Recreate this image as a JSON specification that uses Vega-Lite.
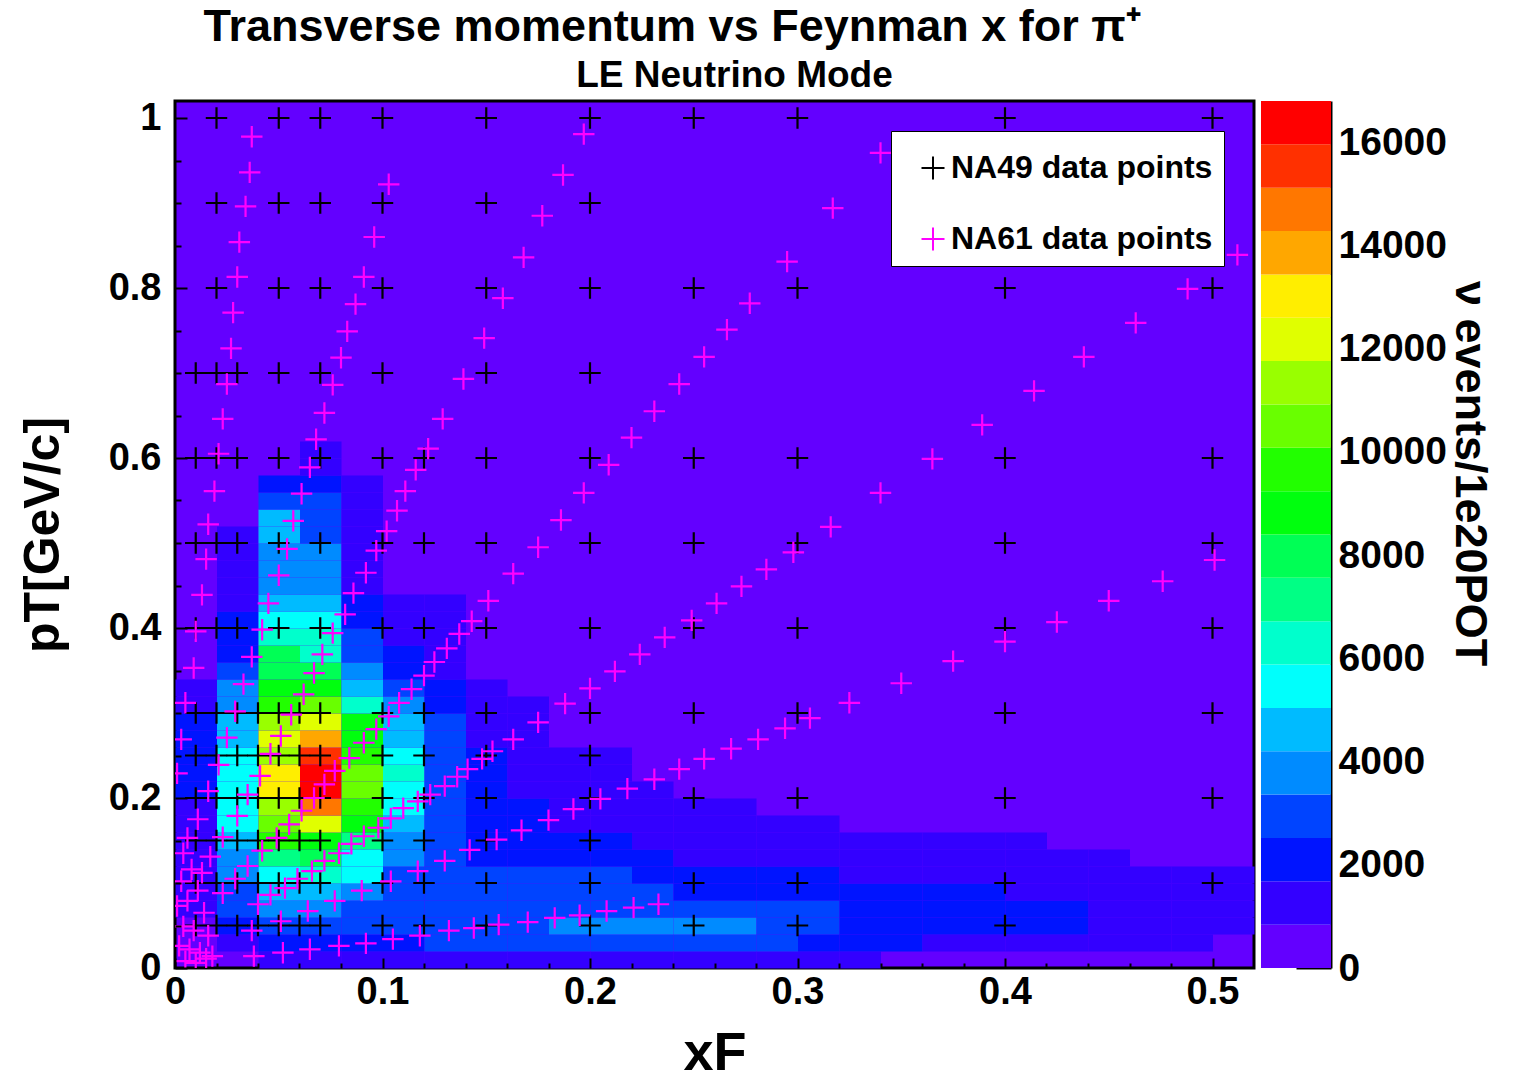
{
  "$schema": "https://vega.github.io/schema/vega-lite/v6.json",
  "background": "white",
  "padding": {"left": 16, "top": 4, "right": 0, "bottom": 2},
  "config": {
    "font": "Liberation Sans",
    "axis": {"labelFont": "Liberation Sans", "titleFont": "Liberation Sans", "labelColor": "black", "titleColor": "black"},
    "title": {"font": "Liberation Sans", "color": "black"}
  },
  "title": {"text": "Transverse momentum vs Feynman x for π⁺", "fontSize": 45, "fontWeight": "bold", "anchor": "middle", "dx": -82, "offset": 6},
  "spacing": 5,
  "resolve": {"scale": {"fill": "independent", "stroke": "independent"}, "legend": {"stroke": "independent", "fill": "independent"}},
  "datasets": {
    "hist": [
      {"xF":0,"pT":0.06,"z":1260},{"xF":0,"pT":0.08,"z":1260},{"xF":0,"pT":0.1,"z":1260},{"xF":0,"pT":0.12,"z":1260},{"xF":0,"pT":0.14,"z":1260},{"xF":0,"pT":0.16,"z":1260},{"xF":0,"pT":0.18,"z":1260},{"xF":0,"pT":0.2,"z":2100},{"xF":0,"pT":0.22,"z":2100},{"xF":0,"pT":0.24,"z":2100},{"xF":0,"pT":0.26,"z":2100},{"xF":0,"pT":0.28,"z":2100},{"xF":0,"pT":0.3,"z":1260},{"xF":0,"pT":0.32,"z":1260},
      {"xF":0.02,"pT":0.02,"z":1260},{"xF":0.02,"pT":0.04,"z":2100},{"xF":0.02,"pT":0.06,"z":2940},{"xF":0.02,"pT":0.08,"z":2940},{"xF":0.02,"pT":0.1,"z":3780},{"xF":0.02,"pT":0.12,"z":3780},{"xF":0.02,"pT":0.14,"z":4620},{"xF":0.02,"pT":0.16,"z":5460},{"xF":0.02,"pT":0.18,"z":5460},{"xF":0.02,"pT":0.2,"z":5460},{"xF":0.02,"pT":0.22,"z":5460},{"xF":0.02,"pT":0.24,"z":5460},{"xF":0.02,"pT":0.26,"z":4620},{"xF":0.02,"pT":0.28,"z":4620},{"xF":0.02,"pT":0.3,"z":3780},{"xF":0.02,"pT":0.32,"z":3780},{"xF":0.02,"pT":0.34,"z":2940},{"xF":0.02,"pT":0.36,"z":2100},{"xF":0.02,"pT":0.38,"z":2100},{"xF":0.02,"pT":0.4,"z":2100},{"xF":0.02,"pT":0.42,"z":1260},{"xF":0.02,"pT":0.44,"z":1260},{"xF":0.02,"pT":0.46,"z":1260},{"xF":0.02,"pT":0.48,"z":1260},{"xF":0.02,"pT":0.5,"z":1260},
      {"xF":0.04,"pT":0,"z":1260},{"xF":0.04,"pT":0.02,"z":2100},{"xF":0.04,"pT":0.04,"z":2940},{"xF":0.04,"pT":0.06,"z":3780},{"xF":0.04,"pT":0.08,"z":4620},{"xF":0.04,"pT":0.1,"z":5460},{"xF":0.04,"pT":0.12,"z":7140},{"xF":0.04,"pT":0.14,"z":9660},{"xF":0.04,"pT":0.16,"z":10500},{"xF":0.04,"pT":0.18,"z":11340},{"xF":0.04,"pT":0.2,"z":13020},{"xF":0.04,"pT":0.22,"z":13020},{"xF":0.04,"pT":0.24,"z":11340},{"xF":0.04,"pT":0.26,"z":12180},{"xF":0.04,"pT":0.28,"z":11340},{"xF":0.04,"pT":0.3,"z":9660},{"xF":0.04,"pT":0.32,"z":8820},{"xF":0.04,"pT":0.34,"z":7980},{"xF":0.04,"pT":0.36,"z":7980},{"xF":0.04,"pT":0.38,"z":6300},{"xF":0.04,"pT":0.4,"z":5460},{"xF":0.04,"pT":0.42,"z":4620},{"xF":0.04,"pT":0.44,"z":3780},{"xF":0.04,"pT":0.46,"z":3780},{"xF":0.04,"pT":0.48,"z":3780},{"xF":0.04,"pT":0.5,"z":4620},{"xF":0.04,"pT":0.52,"z":4620},{"xF":0.04,"pT":0.54,"z":2940},{"xF":0.04,"pT":0.56,"z":2100},
      {"xF":0.06,"pT":0,"z":1260},{"xF":0.06,"pT":0.02,"z":2100},{"xF":0.06,"pT":0.04,"z":2940},{"xF":0.06,"pT":0.06,"z":3780},{"xF":0.06,"pT":0.08,"z":4620},{"xF":0.06,"pT":0.1,"z":6300},{"xF":0.06,"pT":0.12,"z":7980},{"xF":0.06,"pT":0.14,"z":8820},{"xF":0.06,"pT":0.16,"z":12180},{"xF":0.06,"pT":0.18,"z":14700},{"xF":0.06,"pT":0.2,"z":16380},{"xF":0.06,"pT":0.22,"z":16380},{"xF":0.06,"pT":0.24,"z":15540},{"xF":0.06,"pT":0.26,"z":13860},{"xF":0.06,"pT":0.28,"z":12180},{"xF":0.06,"pT":0.3,"z":10500},{"xF":0.06,"pT":0.32,"z":8820},{"xF":0.06,"pT":0.34,"z":7980},{"xF":0.06,"pT":0.36,"z":6300},{"xF":0.06,"pT":0.38,"z":6300},{"xF":0.06,"pT":0.4,"z":5460},{"xF":0.06,"pT":0.42,"z":4620},{"xF":0.06,"pT":0.44,"z":3780},{"xF":0.06,"pT":0.46,"z":3780},{"xF":0.06,"pT":0.48,"z":3780},{"xF":0.06,"pT":0.5,"z":2940},{"xF":0.06,"pT":0.52,"z":2940},{"xF":0.06,"pT":0.54,"z":2940},{"xF":0.06,"pT":0.56,"z":2100},{"xF":0.06,"pT":0.58,"z":1260},{"xF":0.06,"pT":0.6,"z":1260},
      {"xF":0.08,"pT":0,"z":1260},{"xF":0.08,"pT":0.02,"z":2100},{"xF":0.08,"pT":0.04,"z":2940},{"xF":0.08,"pT":0.06,"z":2940},{"xF":0.08,"pT":0.08,"z":3780},{"xF":0.08,"pT":0.1,"z":5460},{"xF":0.08,"pT":0.12,"z":5460},{"xF":0.08,"pT":0.14,"z":7140},{"xF":0.08,"pT":0.16,"z":8820},{"xF":0.08,"pT":0.18,"z":9660},{"xF":0.08,"pT":0.2,"z":10500},{"xF":0.08,"pT":0.22,"z":10500},{"xF":0.08,"pT":0.24,"z":9660},{"xF":0.08,"pT":0.26,"z":8820},{"xF":0.08,"pT":0.28,"z":8820},{"xF":0.08,"pT":0.3,"z":6300},{"xF":0.08,"pT":0.32,"z":4620},{"xF":0.08,"pT":0.34,"z":3780},{"xF":0.08,"pT":0.36,"z":2940},{"xF":0.08,"pT":0.38,"z":2940},{"xF":0.08,"pT":0.4,"z":2100},{"xF":0.08,"pT":0.42,"z":2100},{"xF":0.08,"pT":0.44,"z":1260},{"xF":0.08,"pT":0.46,"z":1260},{"xF":0.08,"pT":0.48,"z":1260},{"xF":0.08,"pT":0.5,"z":1260},{"xF":0.08,"pT":0.52,"z":1260},{"xF":0.08,"pT":0.54,"z":1260},{"xF":0.08,"pT":0.56,"z":1260},
      {"xF":0.1,"pT":0,"z":1260},{"xF":0.1,"pT":0.02,"z":2100},{"xF":0.1,"pT":0.04,"z":2940},{"xF":0.1,"pT":0.06,"z":2940},{"xF":0.1,"pT":0.08,"z":2940},{"xF":0.1,"pT":0.1,"z":2940},{"xF":0.1,"pT":0.12,"z":3780},{"xF":0.1,"pT":0.14,"z":3780},{"xF":0.1,"pT":0.16,"z":4620},{"xF":0.1,"pT":0.18,"z":5460},{"xF":0.1,"pT":0.2,"z":5460},{"xF":0.1,"pT":0.22,"z":6300},{"xF":0.1,"pT":0.24,"z":5460},{"xF":0.1,"pT":0.26,"z":4620},{"xF":0.1,"pT":0.28,"z":4620},{"xF":0.1,"pT":0.3,"z":3780},{"xF":0.1,"pT":0.32,"z":2940},{"xF":0.1,"pT":0.34,"z":2100},{"xF":0.1,"pT":0.36,"z":2100},{"xF":0.1,"pT":0.38,"z":1260},{"xF":0.1,"pT":0.4,"z":1260},{"xF":0.1,"pT":0.42,"z":1260},
      {"xF":0.12,"pT":0,"z":1260},{"xF":0.12,"pT":0.02,"z":2940},{"xF":0.12,"pT":0.04,"z":2940},{"xF":0.12,"pT":0.06,"z":2940},{"xF":0.12,"pT":0.08,"z":2940},{"xF":0.12,"pT":0.1,"z":2940},{"xF":0.12,"pT":0.12,"z":2940},{"xF":0.12,"pT":0.14,"z":2940},{"xF":0.12,"pT":0.16,"z":2940},{"xF":0.12,"pT":0.18,"z":2940},{"xF":0.12,"pT":0.2,"z":2940},{"xF":0.12,"pT":0.22,"z":2940},{"xF":0.12,"pT":0.24,"z":2940},{"xF":0.12,"pT":0.26,"z":2940},{"xF":0.12,"pT":0.28,"z":2940},{"xF":0.12,"pT":0.3,"z":2100},{"xF":0.12,"pT":0.32,"z":2100},{"xF":0.12,"pT":0.34,"z":1260},{"xF":0.12,"pT":0.36,"z":1260},{"xF":0.12,"pT":0.38,"z":1260},{"xF":0.12,"pT":0.4,"z":1260},{"xF":0.12,"pT":0.42,"z":1260},
      {"xF":0.14,"pT":0,"z":1260},{"xF":0.14,"pT":0.02,"z":2940},{"xF":0.14,"pT":0.04,"z":2940},{"xF":0.14,"pT":0.06,"z":2940},{"xF":0.14,"pT":0.08,"z":2940},{"xF":0.14,"pT":0.1,"z":2940},{"xF":0.14,"pT":0.12,"z":2100},{"xF":0.14,"pT":0.14,"z":2100},{"xF":0.14,"pT":0.16,"z":2100},{"xF":0.14,"pT":0.18,"z":2100},{"xF":0.14,"pT":0.2,"z":2100},{"xF":0.14,"pT":0.22,"z":2100},{"xF":0.14,"pT":0.24,"z":2100},{"xF":0.14,"pT":0.26,"z":1260},{"xF":0.14,"pT":0.28,"z":1260},{"xF":0.14,"pT":0.3,"z":1260},{"xF":0.14,"pT":0.32,"z":1260},
      {"xF":0.16,"pT":0,"z":1260},{"xF":0.16,"pT":0.02,"z":2940},{"xF":0.16,"pT":0.04,"z":2940},{"xF":0.16,"pT":0.06,"z":2940},{"xF":0.16,"pT":0.08,"z":2940},{"xF":0.16,"pT":0.1,"z":2940},{"xF":0.16,"pT":0.12,"z":2100},{"xF":0.16,"pT":0.14,"z":2100},{"xF":0.16,"pT":0.16,"z":2100},{"xF":0.16,"pT":0.18,"z":2100},{"xF":0.16,"pT":0.2,"z":1260},{"xF":0.16,"pT":0.22,"z":1260},{"xF":0.16,"pT":0.24,"z":1260},{"xF":0.16,"pT":0.26,"z":1260},{"xF":0.16,"pT":0.28,"z":1260},{"xF":0.16,"pT":0.3,"z":1260},
      {"xF":0.18,"pT":0,"z":1260},{"xF":0.18,"pT":0.02,"z":2940},{"xF":0.18,"pT":0.04,"z":3780},{"xF":0.18,"pT":0.06,"z":2940},{"xF":0.18,"pT":0.08,"z":2940},{"xF":0.18,"pT":0.1,"z":2940},{"xF":0.18,"pT":0.12,"z":2100},{"xF":0.18,"pT":0.14,"z":2100},{"xF":0.18,"pT":0.16,"z":1260},{"xF":0.18,"pT":0.18,"z":1260},{"xF":0.18,"pT":0.2,"z":1260},{"xF":0.18,"pT":0.22,"z":1260},{"xF":0.18,"pT":0.24,"z":1260},
      {"xF":0.2,"pT":0,"z":1260},{"xF":0.2,"pT":0.02,"z":2940},{"xF":0.2,"pT":0.04,"z":3780},{"xF":0.2,"pT":0.06,"z":2940},{"xF":0.2,"pT":0.08,"z":2940},{"xF":0.2,"pT":0.1,"z":2940},{"xF":0.2,"pT":0.12,"z":2100},{"xF":0.2,"pT":0.14,"z":2100},{"xF":0.2,"pT":0.16,"z":1260},{"xF":0.2,"pT":0.18,"z":1260},{"xF":0.2,"pT":0.2,"z":1260},{"xF":0.2,"pT":0.22,"z":1260},{"xF":0.2,"pT":0.24,"z":1260},
      {"xF":0.22,"pT":0,"z":1260},{"xF":0.22,"pT":0.02,"z":2940},{"xF":0.22,"pT":0.04,"z":3780},{"xF":0.22,"pT":0.06,"z":2940},{"xF":0.22,"pT":0.08,"z":2940},{"xF":0.22,"pT":0.1,"z":2100},{"xF":0.22,"pT":0.12,"z":2100},{"xF":0.22,"pT":0.14,"z":1260},{"xF":0.22,"pT":0.16,"z":1260},{"xF":0.22,"pT":0.18,"z":1260},{"xF":0.22,"pT":0.2,"z":1260},
      {"xF":0.24,"pT":0,"z":1260},{"xF":0.24,"pT":0.02,"z":2940},{"xF":0.24,"pT":0.04,"z":3780},{"xF":0.24,"pT":0.06,"z":2940},{"xF":0.24,"pT":0.08,"z":2100},{"xF":0.24,"pT":0.1,"z":2100},{"xF":0.24,"pT":0.12,"z":1260},{"xF":0.24,"pT":0.14,"z":1260},{"xF":0.24,"pT":0.16,"z":1260},{"xF":0.24,"pT":0.18,"z":1260},
      {"xF":0.26,"pT":0,"z":1260},{"xF":0.26,"pT":0.02,"z":2940},{"xF":0.26,"pT":0.04,"z":3780},{"xF":0.26,"pT":0.06,"z":2940},{"xF":0.26,"pT":0.08,"z":2100},{"xF":0.26,"pT":0.1,"z":2100},{"xF":0.26,"pT":0.12,"z":1260},{"xF":0.26,"pT":0.14,"z":1260},{"xF":0.26,"pT":0.16,"z":1260},{"xF":0.26,"pT":0.18,"z":1260},
      {"xF":0.28,"pT":0,"z":1260},{"xF":0.28,"pT":0.02,"z":2940},{"xF":0.28,"pT":0.04,"z":2940},{"xF":0.28,"pT":0.06,"z":2940},{"xF":0.28,"pT":0.08,"z":2100},{"xF":0.28,"pT":0.1,"z":2100},{"xF":0.28,"pT":0.12,"z":1260},{"xF":0.28,"pT":0.14,"z":1260},{"xF":0.28,"pT":0.16,"z":1260},
      {"xF":0.3,"pT":0,"z":1260},{"xF":0.3,"pT":0.02,"z":2100},{"xF":0.3,"pT":0.04,"z":2940},{"xF":0.3,"pT":0.06,"z":2940},{"xF":0.3,"pT":0.08,"z":2100},{"xF":0.3,"pT":0.1,"z":2100},{"xF":0.3,"pT":0.12,"z":1260},{"xF":0.3,"pT":0.14,"z":1260},{"xF":0.3,"pT":0.16,"z":1260},
      {"xF":0.32,"pT":0,"z":1260},{"xF":0.32,"pT":0.02,"z":2100},{"xF":0.32,"pT":0.04,"z":2100},{"xF":0.32,"pT":0.06,"z":2100},{"xF":0.32,"pT":0.08,"z":2100},{"xF":0.32,"pT":0.1,"z":1260},{"xF":0.32,"pT":0.12,"z":1260},{"xF":0.32,"pT":0.14,"z":1260},
      {"xF":0.34,"pT":0.02,"z":2100},{"xF":0.34,"pT":0.04,"z":2100},{"xF":0.34,"pT":0.06,"z":2100},{"xF":0.34,"pT":0.08,"z":2100},{"xF":0.34,"pT":0.1,"z":1260},{"xF":0.34,"pT":0.12,"z":1260},{"xF":0.34,"pT":0.14,"z":1260},
      {"xF":0.36,"pT":0.02,"z":1260},{"xF":0.36,"pT":0.04,"z":2100},{"xF":0.36,"pT":0.06,"z":2100},{"xF":0.36,"pT":0.08,"z":2100},{"xF":0.36,"pT":0.1,"z":1260},{"xF":0.36,"pT":0.12,"z":1260},{"xF":0.36,"pT":0.14,"z":1260},
      {"xF":0.38,"pT":0.02,"z":1260},{"xF":0.38,"pT":0.04,"z":2100},{"xF":0.38,"pT":0.06,"z":2100},{"xF":0.38,"pT":0.08,"z":2100},{"xF":0.38,"pT":0.1,"z":1260},{"xF":0.38,"pT":0.12,"z":1260},{"xF":0.38,"pT":0.14,"z":1260},
      {"xF":0.4,"pT":0.02,"z":1260},{"xF":0.4,"pT":0.04,"z":2100},{"xF":0.4,"pT":0.06,"z":2100},{"xF":0.4,"pT":0.08,"z":1260},{"xF":0.4,"pT":0.1,"z":1260},{"xF":0.4,"pT":0.12,"z":1260},{"xF":0.4,"pT":0.14,"z":1260},
      {"xF":0.42,"pT":0.02,"z":1260},{"xF":0.42,"pT":0.04,"z":2100},{"xF":0.42,"pT":0.06,"z":2100},{"xF":0.42,"pT":0.08,"z":1260},{"xF":0.42,"pT":0.1,"z":1260},{"xF":0.42,"pT":0.12,"z":1260},
      {"xF":0.44,"pT":0.02,"z":1260},{"xF":0.44,"pT":0.04,"z":1260},{"xF":0.44,"pT":0.06,"z":1260},{"xF":0.44,"pT":0.08,"z":1260},{"xF":0.44,"pT":0.1,"z":1260},{"xF":0.44,"pT":0.12,"z":1260},
      {"xF":0.46,"pT":0.02,"z":1260},{"xF":0.46,"pT":0.04,"z":1260},{"xF":0.46,"pT":0.06,"z":1260},{"xF":0.46,"pT":0.08,"z":1260},{"xF":0.46,"pT":0.1,"z":1260},
      {"xF":0.48,"pT":0.02,"z":1260},{"xF":0.48,"pT":0.04,"z":1260},{"xF":0.48,"pT":0.06,"z":1260},{"xF":0.48,"pT":0.08,"z":1260},{"xF":0.48,"pT":0.1,"z":1260},
      {"xF":0.5,"pT":0.04,"z":1260},{"xF":0.5,"pT":0.06,"z":1260},{"xF":0.5,"pT":0.08,"z":1260},{"xF":0.5,"pT":0.1,"z":1260}
    ],
    "pts": [
      {"set":"NA49 data points","xF":0.02,"pT":1},{"set":"NA49 data points","xF":0.05,"pT":1},{"set":"NA49 data points","xF":0.07,"pT":1},{"set":"NA49 data points","xF":0.1,"pT":1},{"set":"NA49 data points","xF":0.15,"pT":1},{"set":"NA49 data points","xF":0.2,"pT":1},{"set":"NA49 data points","xF":0.25,"pT":1},{"set":"NA49 data points","xF":0.3,"pT":1},{"set":"NA49 data points","xF":0.4,"pT":1},{"set":"NA49 data points","xF":0.5,"pT":1},
      {"set":"NA49 data points","xF":0.02,"pT":0.9},{"set":"NA49 data points","xF":0.05,"pT":0.9},{"set":"NA49 data points","xF":0.07,"pT":0.9},{"set":"NA49 data points","xF":0.1,"pT":0.9},{"set":"NA49 data points","xF":0.15,"pT":0.9},{"set":"NA49 data points","xF":0.2,"pT":0.9},{"set":"NA49 data points","xF":0.4,"pT":0.9},{"set":"NA49 data points","xF":0.5,"pT":0.9},
      {"set":"NA49 data points","xF":0.02,"pT":0.8},{"set":"NA49 data points","xF":0.05,"pT":0.8},{"set":"NA49 data points","xF":0.07,"pT":0.8},{"set":"NA49 data points","xF":0.1,"pT":0.8},{"set":"NA49 data points","xF":0.15,"pT":0.8},{"set":"NA49 data points","xF":0.2,"pT":0.8},{"set":"NA49 data points","xF":0.25,"pT":0.8},{"set":"NA49 data points","xF":0.3,"pT":0.8},{"set":"NA49 data points","xF":0.4,"pT":0.8},{"set":"NA49 data points","xF":0.5,"pT":0.8},
      {"set":"NA49 data points","xF":0.01,"pT":0.7},{"set":"NA49 data points","xF":0.02,"pT":0.7},{"set":"NA49 data points","xF":0.03,"pT":0.7},{"set":"NA49 data points","xF":0.05,"pT":0.7},{"set":"NA49 data points","xF":0.07,"pT":0.7},{"set":"NA49 data points","xF":0.1,"pT":0.7},{"set":"NA49 data points","xF":0.15,"pT":0.7},{"set":"NA49 data points","xF":0.2,"pT":0.7},
      {"set":"NA49 data points","xF":0.01,"pT":0.6},{"set":"NA49 data points","xF":0.02,"pT":0.6},{"set":"NA49 data points","xF":0.03,"pT":0.6},{"set":"NA49 data points","xF":0.05,"pT":0.6},{"set":"NA49 data points","xF":0.07,"pT":0.6},{"set":"NA49 data points","xF":0.1,"pT":0.6},{"set":"NA49 data points","xF":0.12,"pT":0.6},{"set":"NA49 data points","xF":0.15,"pT":0.6},{"set":"NA49 data points","xF":0.2,"pT":0.6},{"set":"NA49 data points","xF":0.25,"pT":0.6},{"set":"NA49 data points","xF":0.3,"pT":0.6},{"set":"NA49 data points","xF":0.4,"pT":0.6},{"set":"NA49 data points","xF":0.5,"pT":0.6},
      {"set":"NA49 data points","xF":0.01,"pT":0.5},{"set":"NA49 data points","xF":0.02,"pT":0.5},{"set":"NA49 data points","xF":0.03,"pT":0.5},{"set":"NA49 data points","xF":0.05,"pT":0.5},{"set":"NA49 data points","xF":0.07,"pT":0.5},{"set":"NA49 data points","xF":0.1,"pT":0.5},{"set":"NA49 data points","xF":0.12,"pT":0.5},{"set":"NA49 data points","xF":0.15,"pT":0.5},{"set":"NA49 data points","xF":0.2,"pT":0.5},{"set":"NA49 data points","xF":0.25,"pT":0.5},{"set":"NA49 data points","xF":0.3,"pT":0.5},{"set":"NA49 data points","xF":0.4,"pT":0.5},{"set":"NA49 data points","xF":0.5,"pT":0.5},
      {"set":"NA49 data points","xF":0.01,"pT":0.4},{"set":"NA49 data points","xF":0.02,"pT":0.4},{"set":"NA49 data points","xF":0.03,"pT":0.4},{"set":"NA49 data points","xF":0.05,"pT":0.4},{"set":"NA49 data points","xF":0.07,"pT":0.4},{"set":"NA49 data points","xF":0.1,"pT":0.4},{"set":"NA49 data points","xF":0.12,"pT":0.4},{"set":"NA49 data points","xF":0.15,"pT":0.4},{"set":"NA49 data points","xF":0.2,"pT":0.4},{"set":"NA49 data points","xF":0.25,"pT":0.4},{"set":"NA49 data points","xF":0.3,"pT":0.4},{"set":"NA49 data points","xF":0.4,"pT":0.4},{"set":"NA49 data points","xF":0.5,"pT":0.4},
      {"set":"NA49 data points","xF":0.01,"pT":0.3},{"set":"NA49 data points","xF":0.02,"pT":0.3},{"set":"NA49 data points","xF":0.03,"pT":0.3},{"set":"NA49 data points","xF":0.04,"pT":0.3},{"set":"NA49 data points","xF":0.05,"pT":0.3},{"set":"NA49 data points","xF":0.06,"pT":0.3},{"set":"NA49 data points","xF":0.07,"pT":0.3},{"set":"NA49 data points","xF":0.1,"pT":0.3},{"set":"NA49 data points","xF":0.12,"pT":0.3},{"set":"NA49 data points","xF":0.15,"pT":0.3},{"set":"NA49 data points","xF":0.2,"pT":0.3},{"set":"NA49 data points","xF":0.25,"pT":0.3},{"set":"NA49 data points","xF":0.3,"pT":0.3},{"set":"NA49 data points","xF":0.4,"pT":0.3},{"set":"NA49 data points","xF":0.5,"pT":0.3},
      {"set":"NA49 data points","xF":0.01,"pT":0.25},{"set":"NA49 data points","xF":0.02,"pT":0.25},{"set":"NA49 data points","xF":0.03,"pT":0.25},{"set":"NA49 data points","xF":0.04,"pT":0.25},{"set":"NA49 data points","xF":0.05,"pT":0.25},{"set":"NA49 data points","xF":0.06,"pT":0.25},{"set":"NA49 data points","xF":0.07,"pT":0.25},{"set":"NA49 data points","xF":0.1,"pT":0.25},{"set":"NA49 data points","xF":0.12,"pT":0.25},{"set":"NA49 data points","xF":0.15,"pT":0.25},{"set":"NA49 data points","xF":0.2,"pT":0.25},
      {"set":"NA49 data points","xF":0.01,"pT":0.2},{"set":"NA49 data points","xF":0.02,"pT":0.2},{"set":"NA49 data points","xF":0.03,"pT":0.2},{"set":"NA49 data points","xF":0.04,"pT":0.2},{"set":"NA49 data points","xF":0.05,"pT":0.2},{"set":"NA49 data points","xF":0.06,"pT":0.2},{"set":"NA49 data points","xF":0.07,"pT":0.2},{"set":"NA49 data points","xF":0.1,"pT":0.2},{"set":"NA49 data points","xF":0.12,"pT":0.2},{"set":"NA49 data points","xF":0.15,"pT":0.2},{"set":"NA49 data points","xF":0.2,"pT":0.2},{"set":"NA49 data points","xF":0.25,"pT":0.2},{"set":"NA49 data points","xF":0.3,"pT":0.2},{"set":"NA49 data points","xF":0.4,"pT":0.2},{"set":"NA49 data points","xF":0.5,"pT":0.2},
      {"set":"NA49 data points","xF":0.01,"pT":0.15},{"set":"NA49 data points","xF":0.02,"pT":0.15},{"set":"NA49 data points","xF":0.03,"pT":0.15},{"set":"NA49 data points","xF":0.04,"pT":0.15},{"set":"NA49 data points","xF":0.05,"pT":0.15},{"set":"NA49 data points","xF":0.06,"pT":0.15},{"set":"NA49 data points","xF":0.07,"pT":0.15},{"set":"NA49 data points","xF":0.1,"pT":0.15},{"set":"NA49 data points","xF":0.12,"pT":0.15},{"set":"NA49 data points","xF":0.15,"pT":0.15},{"set":"NA49 data points","xF":0.2,"pT":0.15},
      {"set":"NA49 data points","xF":0.01,"pT":0.1},{"set":"NA49 data points","xF":0.02,"pT":0.1},{"set":"NA49 data points","xF":0.03,"pT":0.1},{"set":"NA49 data points","xF":0.04,"pT":0.1},{"set":"NA49 data points","xF":0.05,"pT":0.1},{"set":"NA49 data points","xF":0.06,"pT":0.1},{"set":"NA49 data points","xF":0.07,"pT":0.1},{"set":"NA49 data points","xF":0.1,"pT":0.1},{"set":"NA49 data points","xF":0.12,"pT":0.1},{"set":"NA49 data points","xF":0.15,"pT":0.1},{"set":"NA49 data points","xF":0.2,"pT":0.1},{"set":"NA49 data points","xF":0.25,"pT":0.1},{"set":"NA49 data points","xF":0.3,"pT":0.1},{"set":"NA49 data points","xF":0.4,"pT":0.1},{"set":"NA49 data points","xF":0.5,"pT":0.1},
      {"set":"NA49 data points","xF":0.01,"pT":0.05},{"set":"NA49 data points","xF":0.02,"pT":0.05},{"set":"NA49 data points","xF":0.03,"pT":0.05},{"set":"NA49 data points","xF":0.04,"pT":0.05},{"set":"NA49 data points","xF":0.05,"pT":0.05},{"set":"NA49 data points","xF":0.06,"pT":0.05},{"set":"NA49 data points","xF":0.07,"pT":0.05},{"set":"NA49 data points","xF":0.1,"pT":0.05},{"set":"NA49 data points","xF":0.12,"pT":0.05},{"set":"NA49 data points","xF":0.15,"pT":0.05},{"set":"NA49 data points","xF":0.2,"pT":0.05},{"set":"NA49 data points","xF":0.25,"pT":0.05},{"set":"NA49 data points","xF":0.3,"pT":0.05},{"set":"NA49 data points","xF":0.4,"pT":0.05},
      {"set":"NA61 data points","xF":0.037,"pT":0.978},{"set":"NA61 data points","xF":0.036,"pT":0.936},{"set":"NA61 data points","xF":0.034,"pT":0.896},{"set":"NA61 data points","xF":0.031,"pT":0.854},{"set":"NA61 data points","xF":0.030,"pT":0.813},{"set":"NA61 data points","xF":0.028,"pT":0.771},{"set":"NA61 data points","xF":0.027,"pT":0.729},{"set":"NA61 data points","xF":0.025,"pT":0.687},{"set":"NA61 data points","xF":0.023,"pT":0.646},{"set":"NA61 data points","xF":0.021,"pT":0.605},{"set":"NA61 data points","xF":0.019,"pT":0.561},{"set":"NA61 data points","xF":0.016,"pT":0.522},{"set":"NA61 data points","xF":0.015,"pT":0.481},{"set":"NA61 data points","xF":0.013,"pT":0.439},{"set":"NA61 data points","xF":0.010,"pT":0.396},{"set":"NA61 data points","xF":0.009,"pT":0.353},{"set":"NA61 data points","xF":0.005,"pT":0.312},{"set":"NA61 data points","xF":0.003,"pT":0.269},{"set":"NA61 data points","xF":0.001,"pT":0.229},
      {"set":"NA61 data points","xF":0.103,"pT":0.922},{"set":"NA61 data points","xF":0.096,"pT":0.860},{"set":"NA61 data points","xF":0.091,"pT":0.813},{"set":"NA61 data points","xF":0.087,"pT":0.781},{"set":"NA61 data points","xF":0.083,"pT":0.749},{"set":"NA61 data points","xF":0.080,"pT":0.718},{"set":"NA61 data points","xF":0.076,"pT":0.686},{"set":"NA61 data points","xF":0.072,"pT":0.653},{"set":"NA61 data points","xF":0.068,"pT":0.622},{"set":"NA61 data points","xF":0.065,"pT":0.589},{"set":"NA61 data points","xF":0.061,"pT":0.558},{"set":"NA61 data points","xF":0.057,"pT":0.526},{"set":"NA61 data points","xF":0.054,"pT":0.493},{"set":"NA61 data points","xF":0.050,"pT":0.462},{"set":"NA61 data points","xF":0.045,"pT":0.429},{"set":"NA61 data points","xF":0.042,"pT":0.398},{"set":"NA61 data points","xF":0.037,"pT":0.366},{"set":"NA61 data points","xF":0.033,"pT":0.334},{"set":"NA61 data points","xF":0.029,"pT":0.302},{"set":"NA61 data points","xF":0.025,"pT":0.271},{"set":"NA61 data points","xF":0.021,"pT":0.239},{"set":"NA61 data points","xF":0.016,"pT":0.208},{"set":"NA61 data points","xF":0.011,"pT":0.175},{"set":"NA61 data points","xF":0.006,"pT":0.153},{"set":"NA61 data points","xF":0.004,"pT":0.135},
      {"set":"NA61 data points","xF":0.197,"pT":0.981},{"set":"NA61 data points","xF":0.187,"pT":0.933},{"set":"NA61 data points","xF":0.177,"pT":0.885},{"set":"NA61 data points","xF":0.168,"pT":0.836},{"set":"NA61 data points","xF":0.158,"pT":0.788},{"set":"NA61 data points","xF":0.149,"pT":0.741},{"set":"NA61 data points","xF":0.139,"pT":0.693},{"set":"NA61 data points","xF":0.129,"pT":0.646},{"set":"NA61 data points","xF":0.122,"pT":0.611},{"set":"NA61 data points","xF":0.116,"pT":0.586},{"set":"NA61 data points","xF":0.111,"pT":0.561},{"set":"NA61 data points","xF":0.107,"pT":0.538},{"set":"NA61 data points","xF":0.102,"pT":0.514},{"set":"NA61 data points","xF":0.097,"pT":0.491},{"set":"NA61 data points","xF":0.092,"pT":0.465},{"set":"NA61 data points","xF":0.086,"pT":0.441},{"set":"NA61 data points","xF":0.082,"pT":0.416},{"set":"NA61 data points","xF":0.076,"pT":0.394},{"set":"NA61 data points","xF":0.071,"pT":0.369},{"set":"NA61 data points","xF":0.067,"pT":0.347},{"set":"NA61 data points","xF":0.062,"pT":0.322},{"set":"NA61 data points","xF":0.056,"pT":0.298},{"set":"NA61 data points","xF":0.051,"pT":0.273},{"set":"NA61 data points","xF":0.046,"pT":0.252},{"set":"NA61 data points","xF":0.041,"pT":0.226},{"set":"NA61 data points","xF":0.035,"pT":0.204},{"set":"NA61 data points","xF":0.030,"pT":0.179},{"set":"NA61 data points","xF":0.023,"pT":0.154},{"set":"NA61 data points","xF":0.017,"pT":0.131},{"set":"NA61 data points","xF":0.013,"pT":0.112},
      {"set":"NA61 data points","xF":0.340,"pT":0.959},{"set":"NA61 data points","xF":0.317,"pT":0.894},{"set":"NA61 data points","xF":0.295,"pT":0.831},{"set":"NA61 data points","xF":0.277,"pT":0.782},{"set":"NA61 data points","xF":0.266,"pT":0.751},{"set":"NA61 data points","xF":0.255,"pT":0.719},{"set":"NA61 data points","xF":0.243,"pT":0.687},{"set":"NA61 data points","xF":0.231,"pT":0.655},{"set":"NA61 data points","xF":0.220,"pT":0.624},{"set":"NA61 data points","xF":0.209,"pT":0.592},{"set":"NA61 data points","xF":0.197,"pT":0.559},{"set":"NA61 data points","xF":0.186,"pT":0.527},{"set":"NA61 data points","xF":0.175,"pT":0.495},{"set":"NA61 data points","xF":0.163,"pT":0.464},{"set":"NA61 data points","xF":0.151,"pT":0.432},{"set":"NA61 data points","xF":0.143,"pT":0.408},{"set":"NA61 data points","xF":0.137,"pT":0.393},{"set":"NA61 data points","xF":0.131,"pT":0.376},{"set":"NA61 data points","xF":0.125,"pT":0.360},{"set":"NA61 data points","xF":0.120,"pT":0.344},{"set":"NA61 data points","xF":0.114,"pT":0.328},{"set":"NA61 data points","xF":0.108,"pT":0.312},{"set":"NA61 data points","xF":0.103,"pT":0.296},{"set":"NA61 data points","xF":0.097,"pT":0.281},{"set":"NA61 data points","xF":0.091,"pT":0.265},{"set":"NA61 data points","xF":0.084,"pT":0.247},{"set":"NA61 data points","xF":0.077,"pT":0.232},{"set":"NA61 data points","xF":0.072,"pT":0.216},{"set":"NA61 data points","xF":0.067,"pT":0.200},{"set":"NA61 data points","xF":0.061,"pT":0.185},{"set":"NA61 data points","xF":0.055,"pT":0.169},{"set":"NA61 data points","xF":0.049,"pT":0.153},{"set":"NA61 data points","xF":0.042,"pT":0.138},{"set":"NA61 data points","xF":0.035,"pT":0.120},{"set":"NA61 data points","xF":0.029,"pT":0.105},{"set":"NA61 data points","xF":0.023,"pT":0.088},
      {"set":"NA61 data points","xF":0.512,"pT":0.839},{"set":"NA61 data points","xF":0.488,"pT":0.799},{"set":"NA61 data points","xF":0.463,"pT":0.759},{"set":"NA61 data points","xF":0.438,"pT":0.719},{"set":"NA61 data points","xF":0.414,"pT":0.679},{"set":"NA61 data points","xF":0.389,"pT":0.639},{"set":"NA61 data points","xF":0.365,"pT":0.599},{"set":"NA61 data points","xF":0.340,"pT":0.559},{"set":"NA61 data points","xF":0.316,"pT":0.519},{"set":"NA61 data points","xF":0.298,"pT":0.489},{"set":"NA61 data points","xF":0.285,"pT":0.469},{"set":"NA61 data points","xF":0.273,"pT":0.449},{"set":"NA61 data points","xF":0.261,"pT":0.429},{"set":"NA61 data points","xF":0.249,"pT":0.409},{"set":"NA61 data points","xF":0.236,"pT":0.389},{"set":"NA61 data points","xF":0.224,"pT":0.369},{"set":"NA61 data points","xF":0.212,"pT":0.349},{"set":"NA61 data points","xF":0.200,"pT":0.329},{"set":"NA61 data points","xF":0.188,"pT":0.311},{"set":"NA61 data points","xF":0.175,"pT":0.289},{"set":"NA61 data points","xF":0.163,"pT":0.269},{"set":"NA61 data points","xF":0.153,"pT":0.255},{"set":"NA61 data points","xF":0.148,"pT":0.246},{"set":"NA61 data points","xF":0.141,"pT":0.234},{"set":"NA61 data points","xF":0.136,"pT":0.225},{"set":"NA61 data points","xF":0.130,"pT":0.214},{"set":"NA61 data points","xF":0.123,"pT":0.204},{"set":"NA61 data points","xF":0.117,"pT":0.196},{"set":"NA61 data points","xF":0.110,"pT":0.188},{"set":"NA61 data points","xF":0.104,"pT":0.176},{"set":"NA61 data points","xF":0.098,"pT":0.165},{"set":"NA61 data points","xF":0.091,"pT":0.155},{"set":"NA61 data points","xF":0.085,"pT":0.146},{"set":"NA61 data points","xF":0.079,"pT":0.135},{"set":"NA61 data points","xF":0.072,"pT":0.126},{"set":"NA61 data points","xF":0.066,"pT":0.114},{"set":"NA61 data points","xF":0.059,"pT":0.105},{"set":"NA61 data points","xF":0.053,"pT":0.094},{"set":"NA61 data points","xF":0.046,"pT":0.086},{"set":"NA61 data points","xF":0.040,"pT":0.075},
      {"set":"NA61 data points","xF":0.501,"pT":0.480},{"set":"NA61 data points","xF":0.476,"pT":0.455},{"set":"NA61 data points","xF":0.450,"pT":0.432},{"set":"NA61 data points","xF":0.425,"pT":0.407},{"set":"NA61 data points","xF":0.400,"pT":0.384},{"set":"NA61 data points","xF":0.375,"pT":0.361},{"set":"NA61 data points","xF":0.350,"pT":0.335},{"set":"NA61 data points","xF":0.325,"pT":0.312},{"set":"NA61 data points","xF":0.306,"pT":0.294},{"set":"NA61 data points","xF":0.294,"pT":0.282},{"set":"NA61 data points","xF":0.281,"pT":0.269},{"set":"NA61 data points","xF":0.268,"pT":0.258},{"set":"NA61 data points","xF":0.255,"pT":0.246},{"set":"NA61 data points","xF":0.243,"pT":0.234},{"set":"NA61 data points","xF":0.231,"pT":0.222},{"set":"NA61 data points","xF":0.218,"pT":0.211},{"set":"NA61 data points","xF":0.205,"pT":0.199},{"set":"NA61 data points","xF":0.192,"pT":0.187},{"set":"NA61 data points","xF":0.180,"pT":0.174},{"set":"NA61 data points","xF":0.167,"pT":0.162},{"set":"NA61 data points","xF":0.155,"pT":0.151},{"set":"NA61 data points","xF":0.142,"pT":0.139},{"set":"NA61 data points","xF":0.130,"pT":0.126},{"set":"NA61 data points","xF":0.117,"pT":0.114},{"set":"NA61 data points","xF":0.104,"pT":0.102},{"set":"NA61 data points","xF":0.090,"pT":0.091},{"set":"NA61 data points","xF":0.077,"pT":0.079},{"set":"NA61 data points","xF":0.064,"pT":0.067},{"set":"NA61 data points","xF":0.051,"pT":0.055},{"set":"NA61 data points","xF":0.037,"pT":0.044},
      {"set":"NA61 data points","xF":0.233,"pT":0.075},{"set":"NA61 data points","xF":0.221,"pT":0.071},{"set":"NA61 data points","xF":0.208,"pT":0.067},{"set":"NA61 data points","xF":0.195,"pT":0.062},{"set":"NA61 data points","xF":0.183,"pT":0.059},{"set":"NA61 data points","xF":0.170,"pT":0.054},{"set":"NA61 data points","xF":0.156,"pT":0.051},{"set":"NA61 data points","xF":0.144,"pT":0.047},{"set":"NA61 data points","xF":0.132,"pT":0.044},{"set":"NA61 data points","xF":0.118,"pT":0.038},{"set":"NA61 data points","xF":0.105,"pT":0.034},{"set":"NA61 data points","xF":0.092,"pT":0.029},{"set":"NA61 data points","xF":0.079,"pT":0.026},{"set":"NA61 data points","xF":0.065,"pT":0.022},{"set":"NA61 data points","xF":0.052,"pT":0.018},{"set":"NA61 data points","xF":0.038,"pT":0.014},
      {"set":"NA61 data points","xF":0.003,"pT":0.102},{"set":"NA61 data points","xF":0.008,"pT":0.116},{"set":"NA61 data points","xF":0.001,"pT":0.073},{"set":"NA61 data points","xF":0.006,"pT":0.079},{"set":"NA61 data points","xF":0.011,"pT":0.091},{"set":"NA61 data points","xF":0.014,"pT":0.065},{"set":"NA61 data points","xF":0.004,"pT":0.049},{"set":"NA61 data points","xF":0.009,"pT":0.044},{"set":"NA61 data points","xF":0.016,"pT":0.038},{"set":"NA61 data points","xF":0.002,"pT":0.026},{"set":"NA61 data points","xF":0.007,"pT":0.022},{"set":"NA61 data points","xF":0.012,"pT":0.018},{"set":"NA61 data points","xF":0.018,"pT":0.014},{"set":"NA61 data points","xF":0.005,"pT":0.008},{"set":"NA61 data points","xF":0.010,"pT":0.006},{"set":"NA61 data points","xF":0.015,"pT":0.011}
    ],
    "bar": [
      {"lo":0,"hi":840},{"lo":840,"hi":1680},{"lo":1680,"hi":2520},{"lo":2520,"hi":3360},{"lo":3360,"hi":4200},{"lo":4200,"hi":5040},{"lo":5040,"hi":5880},{"lo":5880,"hi":6720},{"lo":6720,"hi":7560},{"lo":7560,"hi":8400},{"lo":8400,"hi":9240},{"lo":9240,"hi":10080},{"lo":10080,"hi":10920},{"lo":10920,"hi":11760},{"lo":11760,"hi":12600},{"lo":12600,"hi":13440},{"lo":13440,"hi":14280},{"lo":14280,"hi":15120},{"lo":15120,"hi":15960},{"lo":15960,"hi":16800}
    ]
  },
  "hconcat": [
    {
      "width": 1079,
      "height": 867,
      "title": {"text": "LE Neutrino Mode", "fontSize": 37, "fontWeight": "bold", "anchor": "middle", "dx": 20, "offset": 4},
      "view": {"fill": "#6300FF", "stroke": "black", "strokeWidth": 3},
      "layer": [
        {
          "data": {"name": "hist"},
          "mark": {"type": "rect"},
          "encoding": {
            "x": {"field": "xF", "type": "quantitative", "bin": {"binned": true, "step": 0.02},
              "scale": {"domain": [0, 0.52], "nice": false, "zero": false},
              "axis": {
                "values": [0,0.02,0.04,0.06,0.08,0.1,0.12,0.14,0.16,0.18,0.2,0.22,0.24,0.26,0.28,0.3,0.32,0.34,0.36,0.38,0.4,0.42,0.44,0.46,0.48,0.5],
                "labelExpr": "abs(datum.value*10-round(datum.value*10))<0.001 ? format(datum.value,'~g') : ''",
                "labelOverlap": false, "labelFlush": false,
                "labelFontSize": 38, "labelFontWeight": "bold", "labelPadding": 15,
                "tickColor": "black", "tickWidth": 2,
                "tickSize": {"condition": {"test": "abs(datum.value*10-round(datum.value*10))<0.001", "value": -10}, "value": -5},
                "domain": false, "grid": false,
                "title": "xF", "titleFontSize": 54, "titleFontWeight": "bold", "titlePadding": 10
              }
            },
            "y": {"field": "pT", "type": "quantitative", "bin": {"binned": true, "step": 0.02},
              "scale": {"domain": [0, 1.02], "nice": false, "zero": false},
              "axis": {
                "values": [0,0.05,0.1,0.15,0.2,0.25,0.3,0.35,0.4,0.45,0.5,0.55,0.6,0.65,0.7,0.75,0.8,0.85,0.9,0.95,1],
                "labelExpr": "abs(datum.value*5-round(datum.value*5))<0.001 ? format(datum.value,'~g') : ''",
                "labelOverlap": false, "labelFlush": false,
                "labelFontSize": 38, "labelFontWeight": "bold", "labelPadding": 26,
                "tickColor": "black", "tickWidth": 2,
                "tickSize": {"condition": {"test": "abs(datum.value*5-round(datum.value*5))<0.001", "value": -12}, "value": -6},
                "domain": false, "grid": false,
                "title": "pT[GeV/c]", "titleFontSize": 50, "titleFontWeight": "bold", "titlePadding": 40
              }
            },
            "fill": {"field": "z", "type": "quantitative",
              "scale": {"type": "threshold",
                "domain": [840,1680,2520,3360,4200,5040,5880,6720,7560,8400,9240,10080,10920,11760,12600,13440,14280,15120,15960],
                "range": ["#6300FF","#3300FF","#0014FF","#0044FF","#008BFF","#00BBFF","#00FFFC","#00FFCC","#00FF85","#00FF55","#00FF0E","#22FF00","#69FF00","#99FF00","#E0FF00","#FFEE00","#FFA700","#FF7700","#FF3000","#FF0000"]},
              "legend": null}
          }
        },
        {
          "data": {"name": "pts"},
          "mark": {"type": "point", "shape": "M-1,0H1M0,-1V1", "filled": false, "size": 460, "strokeWidth": 2.2, "opacity": 1, "clip": true},
          "encoding": {
            "x": {"field": "xF", "type": "quantitative"},
            "y": {"field": "pT", "type": "quantitative"},
            "stroke": {"field": "set", "type": "nominal",
              "scale": {"domain": ["NA49 data points", "NA61 data points"], "range": ["black", "#FF00FF"]},
              "legend": {"title": null, "orient": "top-right", "offset": 30,
                "fillColor": "white", "strokeColor": "black",
                "padding": 11, "rowPadding": 29, "symbolOffset": 5,
                "symbolType": "M-0.46,0H0.46M0,-0.46V0.46", "symbolSize": 2500, "symbolStrokeWidth": 2,
                "labelFont": "Liberation Sans", "labelFontSize": 32, "labelFontWeight": "bold", "labelColor": "black", "labelOffset": -8, "labelLimit": 400,
                "encode": {"legend": {"update": {"strokeWidth": {"value": 3}}}}}
            }
          }
        }
      ]
    },
    {
      "width": 70,
      "height": 867,
      "view": {"stroke": null},
      "data": {"name": "bar"},
      "mark": {"type": "rect"},
      "encoding": {
        "y": {"field": "lo", "type": "quantitative",
          "scale": {"domain": [0, 16800], "nice": false, "zero": false},
          "axis": {"orient": "right",
            "values": [0,2000,4000,6000,8000,10000,12000,14000,16000],
            "format": "d",
            "labelFontSize": 39, "labelFontWeight": "bold", "labelPadding": 42, "labelOverlap": false, "labelFlush": false,
            "tickSize": -35, "tickWidth": 2, "tickColor": "black",
            "domain": true, "domainColor": "black", "domainWidth": 2, "grid": false,
            "title": "ν events/1e20POT", "titleFontSize": 45, "titleFontWeight": "bold", "titlePadding": 0, "titleY": 372}
        },
        "y2": {"field": "hi"},
        "fill": {"field": "lo", "type": "quantitative",
          "scale": {"type": "threshold",
            "domain": [840,1680,2520,3360,4200,5040,5880,6720,7560,8400,9240,10080,10920,11760,12600,13440,14280,15120,15960],
            "range": ["#6300FF","#3300FF","#0014FF","#0044FF","#008BFF","#00BBFF","#00FFFC","#00FFCC","#00FF85","#00FF55","#00FF0E","#22FF00","#69FF00","#99FF00","#E0FF00","#FFEE00","#FFA700","#FF7700","#FF3000","#FF0000"]},
          "legend": null}
      }
    }
  ]
}
